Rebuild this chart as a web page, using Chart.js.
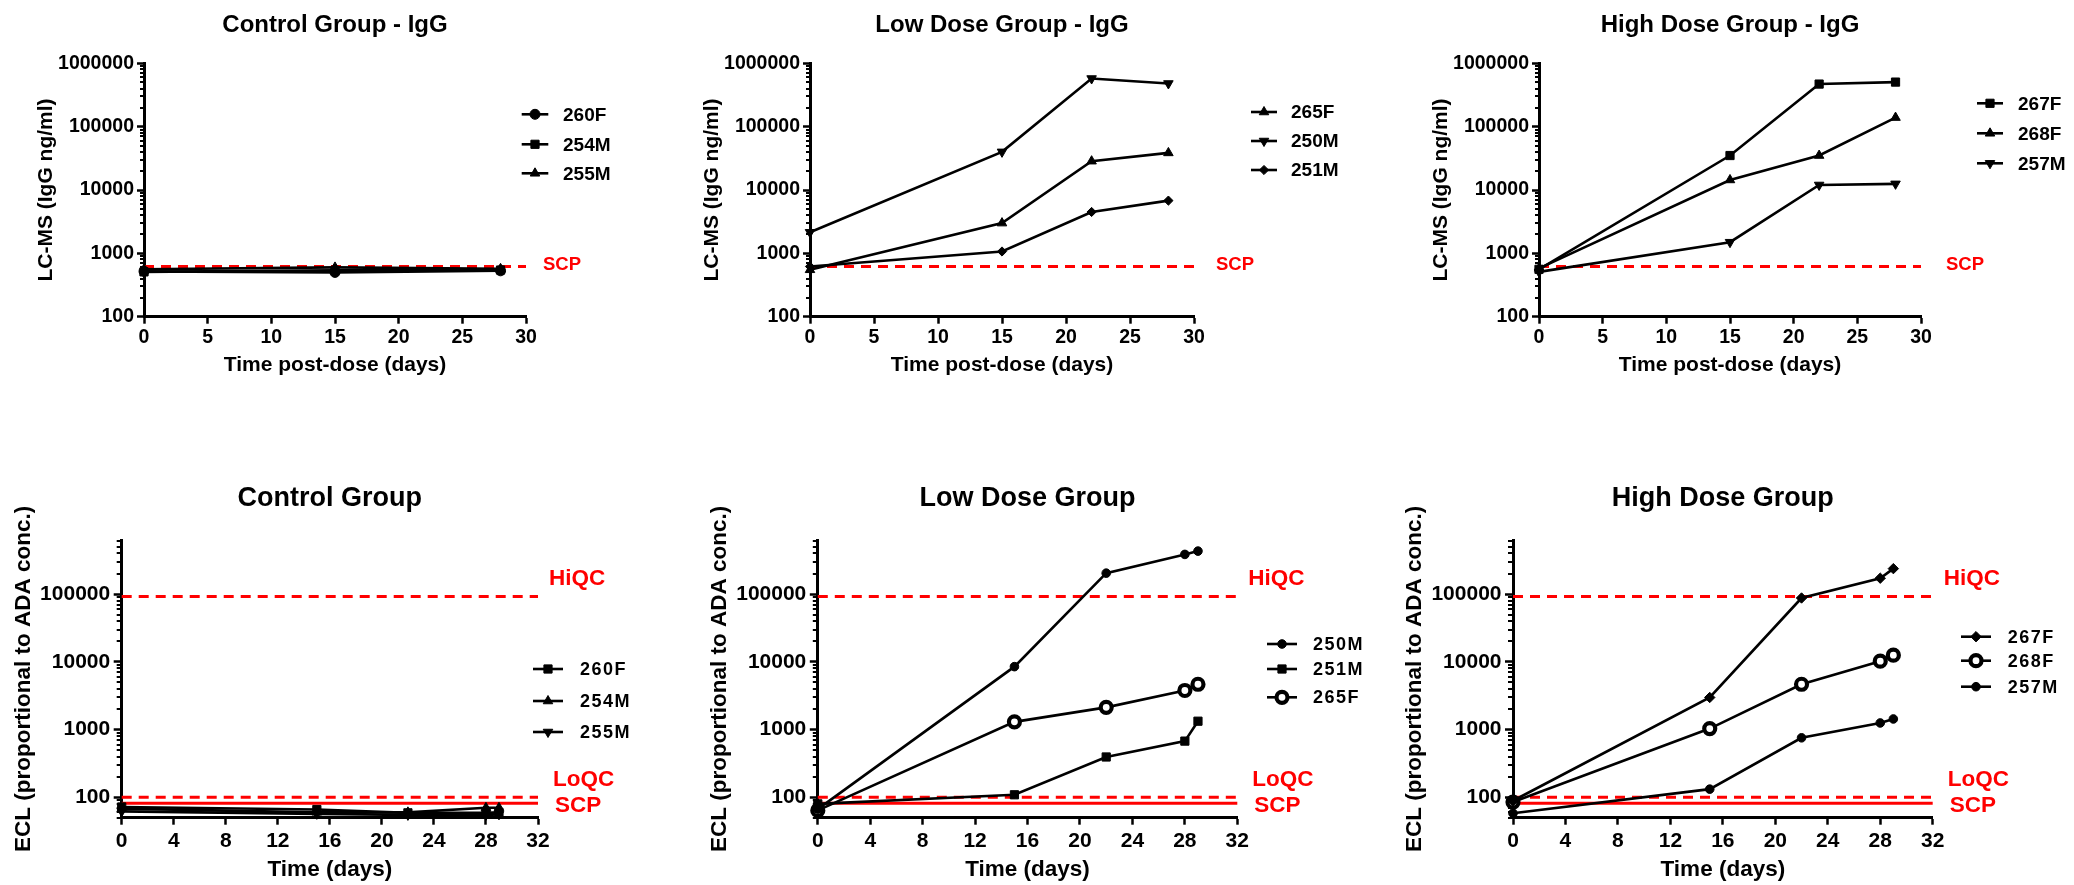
<!DOCTYPE html>
<html>
<head>
<meta charset="utf-8">
<script src="https://cdn.jsdelivr.net/npm/chart.js@4.4.1/dist/chart.umd.min.js"></script>
<style>
html,body{margin:0;padding:0;background:#ffffff;}
body{width:2074px;height:885px;position:relative;overflow:hidden;}
canvas{position:absolute;}
</style>
</head>
<body>
<canvas id="p1"></canvas>
<canvas id="p2"></canvas>
<canvas id="p3"></canvas>
<canvas id="p4"></canvas>
<canvas id="p5"></canvas>
<canvas id="p6"></canvas>
<script>
// ---------------- DATA ----------------
const igDays = [0, 15, 22, 28];
const igControlDays = [0, 15, 28];
const eclDays = [0, 15, 22, 28, 29];

const igXTicks = [0, 5, 10, 15, 20, 25, 30];
const eclXTicks = [0, 4, 8, 12, 16, 20, 24, 28, 32];
const igYTicks = [100, 1000, 10000, 100000, 1000000];
const eclYTicks = [100, 1000, 10000, 100000];

const SCP_IGG = 620;
const HIQC = 92000;
const LOQC = 100;
const SCP_ECL = 82;

// LC-MS IgG (ng/ml)
const igCtrl260F = [520, 500, 530];
const igCtrl254M = [510, 540, 545];
const igCtrl255M = [560, 600, 570];

const igLow265F = [550, 3000, 28500, 38500];
const igLow250M = [2150, 40000, 575000, 480000];
const igLow251M = [620, 1070, 4500, 6800];

const igHigh267F = [560, 35000, 470000, 505000];
const igHigh268F = [580, 14400, 35000, 139000];
const igHigh257M = [510, 1500, 12000, 12500];

// ECL (proportional to ADA conc.)
const eclCtrl260F = [72, 66, 59, 59, 60];
const eclCtrl254M = [68, 60, 60, 70, 70];
const eclCtrl255M = [62, 57, 55, 55, 56];

const eclLow250M = [67, 8500, 204000, 386000, 432000];
const eclLow251M = [80, 109, 394, 676, 1330];
const eclLow265F = [64, 1300, 2130, 3780, 4670];

const eclHigh267F = [89, 2980, 87700, 172000, 238000];
const eclHigh268F = [85, 1035, 4670, 10240, 12540];
const eclHigh257M = [58, 132, 756, 1253, 1435];

// ---------------- STYLE ----------------
const FONT = '"Liberation Sans", Arial, Helvetica, sans-serif';
const BLACK = '#000000';
const RED = '#ff0000';

const M = {
  circle:   {style: 'circle', r: 5},
  square:   {style: 'rect', r: 5.8},
  tri:      {style: 'triangle', r: 5.5},
  triDown:  {style: 'triangle', r: 5.5, rot: 180},
  diamond:  {style: 'rectRot', r: 4.6},
  diamondB: {style: 'rectRot', r: 5.2},
  dot:      {style: 'circle', r: 4.3},
  ring:     {style: 'circle', r: 5.5, fill: '#ffffff', bw: 4.2}
};

function seriesDataset(label, days, vals, m) {
  return {
    label: label,
    data: days.map((d, i) => ({x: d, y: vals[i]})),
    borderColor: BLACK, borderWidth: 2.6, tension: 0, clip: false, order: 1,
    pointStyle: m.style, pointRadius: m.r, pointHoverRadius: m.r, pointRotation: m.rot || 0,
    pointBackgroundColor: m.fill || BLACK, pointBorderColor: BLACK, pointBorderWidth: m.bw || 1,
    _marker: m
  };
}
function refDataset(label, value, xMax, dashed) {
  return {
    label: label, _ref: true,
    data: [{x: 0, y: value}, {x: xMax, y: value}],
    borderColor: RED, borderWidth: 3, borderDash: dashed ? [10, 7] : [],
    pointRadius: 0, pointHoverRadius: 0, clip: false, order: 10, tension: 0
  };
}

function drawMarker(ctx, m, x, y) {
  ctx.save();
  ctx.fillStyle = m.fill || BLACK;
  ctx.strokeStyle = BLACK;
  ctx.lineWidth = m.bw || 1;
  if (Chart.helpers && Chart.helpers.drawPoint) {
    Chart.helpers.drawPoint(ctx, {pointStyle: m.style, rotation: m.rot || 0, radius: m.r, borderWidth: m.bw || 1}, x, y);
  } else {
    ctx.beginPath(); ctx.arc(x, y, m.r, 0, Math.PI * 2); ctx.fill(); ctx.stroke();
  }
  ctx.restore();
}

function legendPlugin(spec) {
  return {
    id: 'lineLegend',
    afterDraw(chart) {
      const {ctx, chartArea} = chart;
      const items = chart.data.datasets.filter(d => !d._ref);
      const cx = chartArea.right + spec.dx;
      ctx.save();
      ctx.font = 'bold ' + spec.size + 'px ' + FONT;
      if ('letterSpacing' in ctx) ctx.letterSpacing = (spec.spacing || 0) + 'px';
      ctx.textAlign = 'left';
      ctx.textBaseline = 'middle';
      items.forEach((d, i) => {
        const y = chartArea.top + spec.rows[i];
        ctx.strokeStyle = BLACK; ctx.lineWidth = 2.6; ctx.setLineDash([]);
        ctx.beginPath(); ctx.moveTo(cx - spec.half, y); ctx.lineTo(cx + spec.half, y); ctx.stroke();
        drawMarker(ctx, d._marker, cx, y);
        ctx.fillStyle = BLACK;
        ctx.fillText(d.label, chartArea.right + spec.textDx, y + 1);
      });
      ctx.restore();
    }
  };
}

function refLabelPlugin(size, items) {
  return {
    id: 'refLabels',
    afterDraw(chart) {
      const {ctx, chartArea} = chart;
      const ys = chart.scales.y;
      ctx.save();
      ctx.fillStyle = RED;
      ctx.font = 'bold ' + size + 'px ' + FONT;
      ctx.textAlign = 'left';
      ctx.textBaseline = 'middle';
      items.forEach(it => {
        ctx.fillText(it.text, chartArea.right + it.dx, ys.getPixelForValue(it.value) + it.dy);
      });
      ctx.restore();
    }
  };
}

function minorTickPlugin(len) {
  return {
    id: 'minorTicks',
    beforeDatasetsDraw(chart) {
      const s = chart.scales.y;
      const ctx = chart.ctx;
      const lo = Math.floor(Math.log10(s.min));
      const hi = Math.ceil(Math.log10(s.max));
      ctx.save();
      ctx.strokeStyle = BLACK; ctx.lineWidth = 2;
      for (let d = lo; d <= hi; d++) {
        for (let k = 2; k <= 9; k++) {
          const v = k * Math.pow(10, d);
          if (v < s.min || v > s.max) continue;
          const y = Math.round(s.getPixelForValue(v));
          ctx.beginPath(); ctx.moveTo(s.right - len, y); ctx.lineTo(s.right, y); ctx.stroke();
        }
      }
      ctx.restore();
    }
  };
}

function makePanel(id, p) {
  const cv = document.getElementById(id);
  cv.style.left = p.box[0] + 'px';
  cv.style.top = p.box[1] + 'px';
  cv.width = p.box[2];
  cv.height = p.box[3];
  const f = p.fonts;
  return new Chart(cv.getContext('2d'), {
    type: 'line',
    data: {datasets: p.datasets},
    options: {
      responsive: false, animation: false, devicePixelRatio: 1, events: [],
      layout: {padding: p.pad},
      plugins: {
        legend: {display: false},
        tooltip: {enabled: false},
        title: {
          display: true, text: p.title, fullSize: false, color: BLACK,
          font: {family: FONT, size: f.title, weight: 'bold'},
          padding: p.titlePad
        }
      },
      scales: {
        x: {
          type: 'linear', position: 'bottom', min: 0, max: p.xMax,
          afterBuildTicks: s => { s.ticks = p.xTicks.map(v => ({value: v})); },
          afterFit: s => { s.height = p.xH; },
          ticks: {font: {family: FONT, size: f.tick, weight: 'bold'}, color: BLACK, padding: p.xTickPad, autoSkip: false, maxRotation: 0},
          grid: {drawOnChartArea: false, tickLength: 7, tickWidth: 2.5, tickColor: BLACK},
          border: {color: BLACK, width: 3},
          title: {display: true, text: p.xTitle, color: BLACK, font: {family: FONT, size: f.axis, weight: 'bold'}, padding: {top: 0, bottom: p.xTitlePad}}
        },
        y: {
          type: 'logarithmic', position: 'left', min: p.yMin, max: p.yMax,
          afterBuildTicks: s => { s.ticks = p.yTicks.map(v => ({value: v})); },
          afterFit: s => { s.width = p.yW; },
          ticks: {callback: v => String(Math.round(v)), font: {family: FONT, size: f.tick, weight: 'bold'}, color: BLACK, padding: p.yTickPad, autoSkip: false},
          grid: {drawOnChartArea: false, tickLength: p.majorLen, tickWidth: 2.5, tickColor: BLACK},
          border: {color: BLACK, width: 3},
          title: {display: true, text: p.yTitle, color: BLACK, font: {family: FONT, size: f.axis, weight: 'bold'}, padding: {top: p.yTitlePad, bottom: 0}}
        }
      }
    },
    plugins: [minorTickPlugin(p.minorLen), refLabelPlugin(p.refSize, p.refItems), legendPlugin(p.legend)]
  });
}

const topFonts = {title: 24, tick: 19.5, axis: 21};
const botFonts = {title: 27, tick: 21, axis: 22.5};

function topPanel(box, pad, title, datasets, legend, scpDx) {
  return {
    box, pad, title, datasets, legend, fonts: topFonts,
    titlePad: {top: 10.6, bottom: 23.9},
    xMax: 30, xTicks: igXTicks, xH: 70, xTickPad: 2.6, xTitle: 'Time post-dose (days)', xTitlePad: 9.1,
    yMin: 100, yMax: 1000000, yTicks: igYTicks, yW: 130, yTickPad: 3, yTitle: 'LC-MS (IgG ng/ml)', yTitlePad: 19.4,
    majorLen: 7, minorLen: 4,
    refSize: 18.5, refItems: [{text: 'SCP', value: SCP_IGG, dx: scpDx, dy: -2}]
  };
}
function botPanel(box, pad, title, datasets, legend) {
  return {
    box, pad, title, datasets, legend, fonts: botFonts,
    titlePad: {top: 42.6, bottom: 25},
    xMax: 32, xTicks: eclXTicks, xH: 67, xTickPad: 4.4, xTitle: 'Time (days)', xTitlePad: 1.2,
    yMin: 50, yMax: 630000, yTicks: eclYTicks, yW: 118, yTickPad: 3.5, yTitle: 'ECL (proportional to ADA conc.)', yTitlePad: 6.5,
    majorLen: 8, minorLen: 5,
    refSize: 22.5,
    refItems: [
      {text: 'HiQC', value: HIQC, dx: 11, dy: -18},
      {text: 'LoQC', value: LOQC, dx: 15, dy: -18},
      {text: 'SCP', value: SCP_ECL, dx: 17, dy: 3}
    ]
  };
}
function eclRefs() {
  return [refDataset('HiQC', HIQC, 32, true), refDataset('LoQC', LOQC, 32, true), refDataset('SCP', SCP_ECL, 32, false)];
}

makePanel('p1', topPanel([0, 0, 650, 390], {left: 14, right: 124, top: 0, bottom: 3.3}, 'Control Group - IgG', [
  seriesDataset('260F', igControlDays, igCtrl260F, M.circle),
  seriesDataset('254M', igControlDays, igCtrl254M, M.square),
  seriesDataset('255M', igControlDays, igCtrl255M, M.tri),
  refDataset('SCP', SCP_IGG, 30, true)
], {dx: 9, textDx: 37, half: 13.3, rows: [51, 81, 110], size: 19}, 17));

makePanel('p2', topPanel([650, 0, 750, 390], {left: 30, right: 206, top: 0, bottom: 3.3}, 'Low Dose Group - IgG', [
  seriesDataset('265F', igDays, igLow265F, M.tri),
  seriesDataset('250M', igDays, igLow250M, M.triDown),
  seriesDataset('251M', igDays, igLow251M, M.diamond),
  refDataset('SCP', SCP_IGG, 30, true)
], {dx: 70, textDx: 97, half: 13, rows: [48.7, 77.7, 106.7], size: 19}, 22));

makePanel('p3', topPanel([1400, 0, 674, 390], {left: 9, right: 153, top: 0, bottom: 3.3}, 'High Dose Group - IgG', [
  seriesDataset('267F', igDays, igHigh267F, M.square),
  seriesDataset('268F', igDays, igHigh268F, M.tri),
  seriesDataset('257M', igDays, igHigh257M, M.triDown),
  refDataset('SCP', SCP_IGG, 30, true)
], {dx: 69, textDx: 97, half: 13, rows: [40, 70, 100], size: 19}, 25));

makePanel('p4', botPanel([0, 440, 660, 445], {left: 3.7, right: 122, top: 0, bottom: 0.3}, 'Control Group', [
  seriesDataset('260F', eclDays, eclCtrl260F, M.square),
  seriesDataset('254M', eclDays, eclCtrl254M, M.tri),
  seriesDataset('255M', eclDays, eclCtrl255M, M.triDown)
].concat(eclRefs()), {dx: 10, textDx: 42, half: 15, rows: [129, 161, 192], size: 18, spacing: 1.5}));

makePanel('p5', botPanel([660, 440, 730, 445], {left: 39.8, right: 152.7, top: 0, bottom: 0.3}, 'Low Dose Group', [
  seriesDataset('250M', eclDays, eclLow250M, M.dot),
  seriesDataset('251M', eclDays, eclLow251M, M.square),
  seriesDataset('265F', eclDays, eclLow265F, M.ring)
].concat(eclRefs()), {dx: 44.7, textDx: 75.7, half: 15, rows: [104, 129, 157.3], size: 18, spacing: 1.5}));

makePanel('p6', botPanel([1390, 440, 684, 445], {left: 5, right: 141.3, top: 0, bottom: 0.3}, 'High Dose Group', [
  seriesDataset('267F', eclDays, eclHigh267F, M.diamondB),
  seriesDataset('268F', eclDays, eclHigh268F, M.ring),
  seriesDataset('257M', eclDays, eclHigh257M, M.dot)
].concat(eclRefs()), {dx: 43.3, textDx: 75, half: 15, rows: [96.7, 120.7, 146.7], size: 18, spacing: 1.5}));
</script>
</body>
</html>
